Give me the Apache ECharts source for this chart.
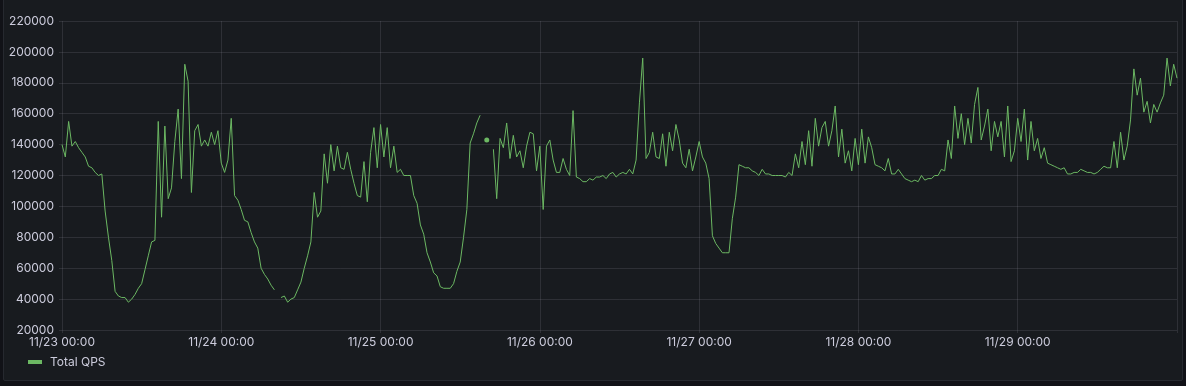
<!DOCTYPE html>
<html><head><meta charset="utf-8">
<script src="https://cdn.jsdelivr.net/npm/echarts@6/dist/echarts.min.js"></script>
<style>
html,body{margin:0;padding:0;background:#111217;width:1186px;height:386px;overflow:hidden}
#panel{position:absolute;left:3px;top:-2px;width:1178px;height:381px;background:#181b1f;border:1px solid #26292f;border-radius:2px}
#chart{position:absolute;left:0;top:0;width:1186px;height:386px}
</style></head><body><div id="panel"></div><div id="chart"></div>
<script>
// ---- data (30-minute samples starting 11/23 00:00) ----
const seriesName = 'Total QPS';
const startDate = [2023, 10, 23];   // year, month index, day
const stepMinutes = 30;
const yTicks = [20000, 40000, 60000, 80000, 100000, 120000, 140000, 160000, 180000, 200000, 220000];

const qpsNov23 = [140000,132000,155000,139000,142000,138000,135000,132000,126000,125000,122000,120000,121000,97000,80000,65000,45000,42000,41000,41000,38000,40000,43000,47000,50000,59000,68000,77000,78000,155000,93000,152000,105000,112000,142000,163000,118000,192000,181000,109000,149000,153000,139000,143000,139000,148000,140000,149000];
const qpsNov24 = [128000,122000,130000,157000,107000,104000,98000,91000,90000,83000,77000,73000,60000,56000,53000,49000,46000,null,41000,42000,38000,40000,41000,46000,51000,60000,68000,77000,109000,93000,97000,134000,115000,140000,123000,139000,125000,124000,135000,124000,115000,107000,106000,129000,103000,135000,151000,125000];
const qpsNov25 = [153000,132000,151000,125000,139000,122000,124000,120000,120000,120000,107000,102000,88000,82000,70000,64000,57000,55000,48000,47000,47000,47000,50000,58000,64000,80000,98000,141000,147000,154000,159000,null,143000,null,137000,105000,144000,138000,154000,131000,146000,132000,136000,125000,139000,148000,147000,123000];
const qpsNov26 = [139000,98000,139000,143000,130000,122000,122000,131000,124000,120000,162000,119000,118000,116000,116000,118000,117000,119000,119000,120000,118000,121000,122000,119000,121000,122000,121000,124000,121000,130000,167000,196000,131000,135000,148000,132000,131000,147000,126000,148000,136000,153000,143000,128000,125000,137000,123000,132000];
const qpsNov27 = [142000,132000,128000,118000,81000,76000,73000,70000,70000,70000,92000,106000,127000,126000,125000,125000,123000,122000,120000,124000,121000,121000,120000,120000,120000,120000,119000,122000,120000,134000,125000,142000,127000,149000,126000,157000,139000,151000,155000,139000,149000,165000,132000,150000,128000,136000,123000,144000];
const qpsNov28 = [127000,150000,128000,145000,138000,127000,126000,125000,123000,131000,121000,121000,124000,121000,118000,117000,116000,117000,116000,120000,117000,118000,118000,120000,120000,124000,123000,143000,131000,165000,144000,160000,140000,157000,141000,166000,177000,143000,152000,163000,136000,155000,145000,155000,132000,165000,129000,136000];
const qpsNov29 = [157000,142000,163000,130000,155000,136000,144000,131000,138000,128000,127000,126000,125000,124000,125000,121000,121000,122000,122000,124000,123000,122000,122000,121000,122000,124000,126000,125000,125000,142000,125000,148000,130000,139000,156000,189000,172000,183000,161000,168000,154000,166000,161000,167000,172000,196000,178000,192000,183000];

// ---- build ----
const DAY = 86400000;
const startTime = new Date(startDate[0], startDate[1], startDate[2]).getTime();
const endTime = startTime + 7 * DAY;
const allValues = [].concat(qpsNov23, qpsNov24, qpsNov25, qpsNov26, qpsNov27, qpsNov28, qpsNov29);
const lineColor = '#6cb863';
const data = allValues.map((v, i) => {
  const t = startTime + i * stepMinutes * 60000;
  const prev = i > 0 ? allValues[i - 1] : null;
  const next = i < allValues.length - 1 ? allValues[i + 1] : null;
  if (v != null && prev == null && next == null) {
    return { value: [t, v], symbol: 'circle', symbolSize: 5, itemStyle: { color: lineColor } };
  }
  return { value: [t, v] };
});

const pad = n => (n < 10 ? '0' : '') + n;
const textColor = '#ccccdc';
const gridColor = 'rgba(204,204,220,0.12)';

const chart = echarts.init(document.getElementById('chart'), null, { renderer: 'canvas' });
chart.setOption({
  animation: false,
  backgroundColor: 'transparent',
  textStyle: { fontFamily: 'Inter, Roboto, sans-serif' },
  grid: { left: 62, right: 9, top: 21, bottom: 56, containLabel: false },
  xAxis: {
    type: 'value',
    min: startTime,
    max: endTime,
    interval: DAY,
    axisLine: { show: false },
    axisTick: { show: true, length: 3, lineStyle: { color: gridColor } },
    splitLine: { show: true, lineStyle: { color: gridColor, width: 1 } },
    axisLabel: {
      color: textColor, fontSize: 12, margin: 6,
      formatter: v => {
        if (v >= endTime) return '';
        const d = new Date(v);
        return pad(d.getMonth() + 1) + '/' + pad(d.getDate()) + ' ' + pad(d.getHours()) + ':' + pad(d.getMinutes());
      }
    }
  },
  yAxis: {
    type: 'value',
    min: yTicks[0],
    max: yTicks[yTicks.length - 1],
    interval: yTicks[1] - yTicks[0],
    axisLine: { show: false },
    axisTick: { show: true, length: 3, lineStyle: { color: gridColor } },
    splitLine: { show: true, lineStyle: { color: gridColor, width: 1 } },
    axisLabel: { color: textColor, fontSize: 12, margin: 8, formatter: v => String(v) }
  },
  legend: {
    left: 28, top: 356, padding: 0,
    icon: 'rect', itemWidth: 14, itemHeight: 4, itemGap: 10,
    textStyle: { color: textColor, fontSize: 12, padding: [0, 0, 0, 3] },
    data: [seriesName]
  },
  series: [{
    name: seriesName,
    type: 'line',
    data: data,
    symbol: 'none',
    showSymbol: true,
    connectNulls: false,
    lineStyle: { color: lineColor, width: 1 },
    itemStyle: { color: lineColor },
    emphasis: { disabled: true }
  }]
});
</script></body></html>
